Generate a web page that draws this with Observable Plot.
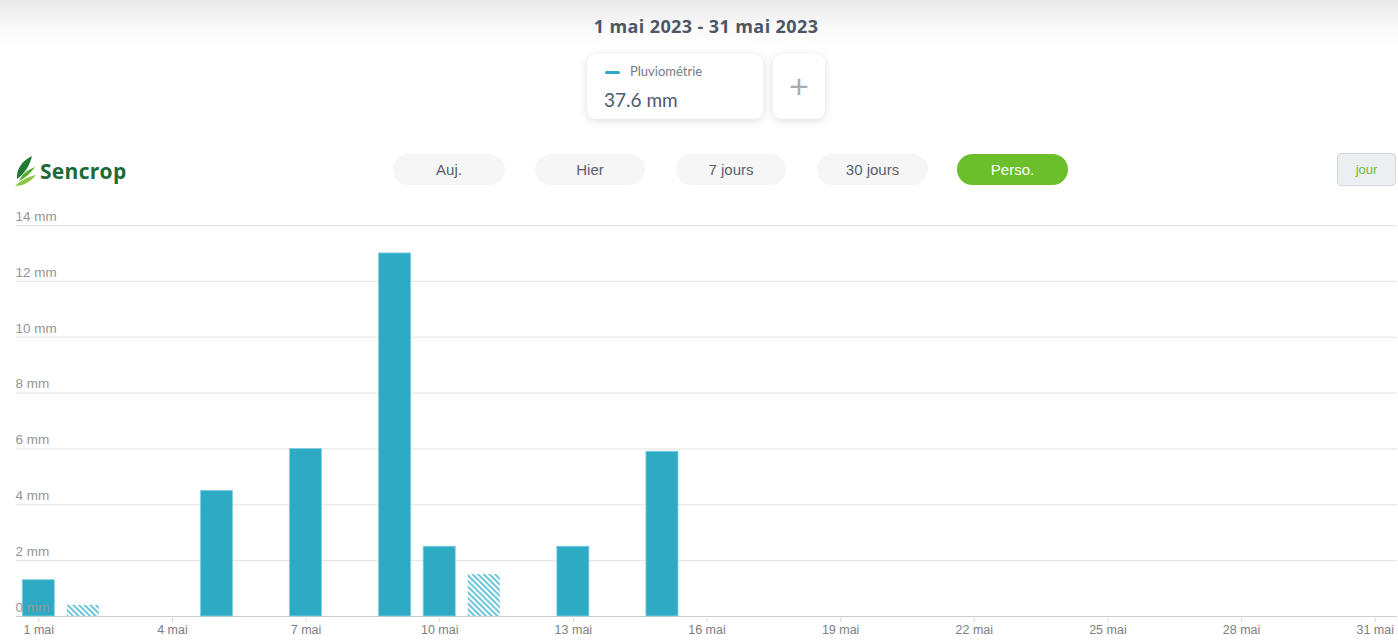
<!DOCTYPE html>
<html>
<head>
<meta charset="utf-8">
<script src="https://cdn.jsdelivr.net/npm/d3@7"></script>
<script src="https://cdn.jsdelivr.net/npm/@observablehq/plot@0.6"></script>
<style>
  html, body { margin: 0; padding: 0; background: #fff; }
  body { width: 1398px; height: 641px; overflow: hidden; position: relative; font-family: "Liberation Sans", Arial, sans-serif; }
  .band { position: absolute; left: 0; top: 0; width: 1398px; height: 52px; background: linear-gradient(#e9e9e9, #fbfbfb 60%, #fff); }
  .title { position: absolute; left: 706px; top: 14px; transform: translateX(-50%); white-space: nowrap; font-family: "Open Sans", sans-serif; font-weight: 700; font-size: 18px; letter-spacing: 0.4px; color: #4d5666; }
  .card { position: absolute; top: 54px; height: 65px; background: #fff; border-radius: 9px; box-shadow: 0 2px 10px rgba(0,0,0,0.13); }
  .dash { position: absolute; left: 18px; top: 17px; width: 15px; height: 3px; border-radius: 2px; background: #2eaac4; }
  .lname { position: absolute; left: 43px; top: 9px; font-family: "Lato", sans-serif; font-size: 13px; color: #747b85; }
  .lval { position: absolute; left: 17px; top: 34px; font-family: "Lato", sans-serif; font-size: 19px; color: #4e5a6c; }
  .plus { position: absolute; left: 0; top: 0; width: 52px; height: 65px; display: flex; align-items: center; justify-content: center; font-family: "Liberation Sans", sans-serif; font-weight: 300; font-size: 34px; color: #a8adb2; }
  .logo { position: absolute; left: 13px; top: 154px; height: 34px; }
  .logotext { position: absolute; left: 40px; top: 157px; font-family: "Open Sans", sans-serif; font-weight: 700; font-size: 21px; color: #1e6a37; letter-spacing: 0.3px; }
  .btn { position: absolute; top: 154px; height: 31px; border-radius: 16px; background: #f6f6f6; display: flex; align-items: center; justify-content: center; font-size: 15px; color: #5a6068; }
  .btn.on { background: #6abf2b; color: #fff; }
  .jour { position: absolute; left: 1337px; top: 153px; width: 57px; height: 31px; border: 1px solid #d4d8db; border-radius: 4px; background: #eceff1; display: flex; align-items: center; justify-content: center; font-size: 13px; color: #6abf2b; }
  #chart { position: absolute; left: 0; top: 205px; }
</style>
</head>
<body>
<div class="band"></div>
<div class="title">1 mai 2023 - 31 mai 2023</div>
<div class="card" style="left:587px;width:176px;">
  <div class="dash"></div>
  <div class="lname">Pluviométrie</div>
  <div class="lval">37.6 mm</div>
</div>
<div class="card" style="left:773px;width:52px;"><div class="plus">+</div></div>

<svg class="logo" width="26" height="34" viewBox="0 0 26 34">
  <path d="M4 25 C3 15 9 7 19 2 C17 11 12 19 4 25 Z" fill="#1e7a35"/>
  <path d="M2 32 C8 32 17 29 23 21 C15 23 8 26 2 32 Z" fill="#8cc63f"/>
  <path d="M6 27 C12 24 18 19 22 13 C14 16 9 20 6 27 Z" fill="#5aae32"/>
</svg>
<div class="logotext">Sencrop</div>

<div class="btn" style="left:393px;width:112px;">Auj.</div>
<div class="btn" style="left:535px;width:110px;">Hier</div>
<div class="btn" style="left:676px;width:110px;">7 jours</div>
<div class="btn" style="left:817px;width:111px;">30 jours</div>
<div class="btn on" style="left:957px;width:111px;">Perso.</div>
<div class="jour">jour</div>

<div id="chart"></div>

<script>
// ---- data ----
const days = [1,2,3,4,5,6,7,8,9,10,11,12,13,14,15,16,17,18,19,20,21,22,23,24,25,26,27,28,29,30,31];
const rain = [1.3,0.4,0,0,4.5,0,6.0,0,13.0,2.5,1.5,0,2.5,0,5.9,0,0,0,0,0,0,0,0,0,0,0,0,0,0,0,0];
const estimatedDays = [2, 11];
const xTicks = [1,4,7,10,13,16,19,22,25,28,31];
const yTicks = [0,2,4,6,8,10,12,14];
const monthLabel = "mai";
const unit = "mm";

const rows = days.map((d, i) => ({day: d, value: rain[i], est: estimatedDays.includes(d)}));
const solid = rows.filter(r => r.value > 0 && !r.est);
const hatched = rows.filter(r => r.value > 0 && r.est);

const chart = Plot.plot({
  width: 1398,
  height: 436,
  marginTop: 20,
  marginBottom: 25,
  marginLeft: 16,
  marginRight: 1,
  style: {fontFamily: "'Liberation Sans', Arial, sans-serif", fontSize: "12px", background: "transparent"},
  x: {type: "band", domain: days, paddingInner: 0.28, paddingOuter: 0.14, round: false, label: null},
  y: {domain: [0, 14], label: null},
  marks: [
    Plot.gridY(yTicks, {stroke: "#e2e2e2", strokeOpacity: 1}),
    Plot.ruleY([0], {stroke: "#cdcdcd"}),
    Plot.barY(solid, {x: "day", y: "value", fill: "#2eaac4", stroke: "#86d0e1", strokeWidth: 0.8}),
    Plot.barY(hatched, {x: "day", y: "value", fill: "url(#hatch)"}),
    Plot.axisY(yTicks, {tickSize: 0, textAnchor: "start", dx: 8, dy: -9, tickFormat: d => `${d} ${unit}`, fill: "#959595", fontSize: 13.5}),
    Plot.axisX(xTicks, {tickSize: 6, stroke: "#dcdcdc", tickFormat: d => `${d} ${monthLabel}`, fill: "#7e7e7e", fontSize: 12.5})
  ]
});

d3.select(chart).insert("defs", ":first-child").html(
  '<pattern id="hatch" patternUnits="userSpaceOnUse" width="4" height="4" patternTransform="rotate(-45)">' +
  '<rect width="4" height="4" fill="#ffffff"/><rect width="2" height="4" fill="#6cc6da"/></pattern>'
);

document.getElementById("chart").appendChild(chart);
</script>
</body>
</html>
